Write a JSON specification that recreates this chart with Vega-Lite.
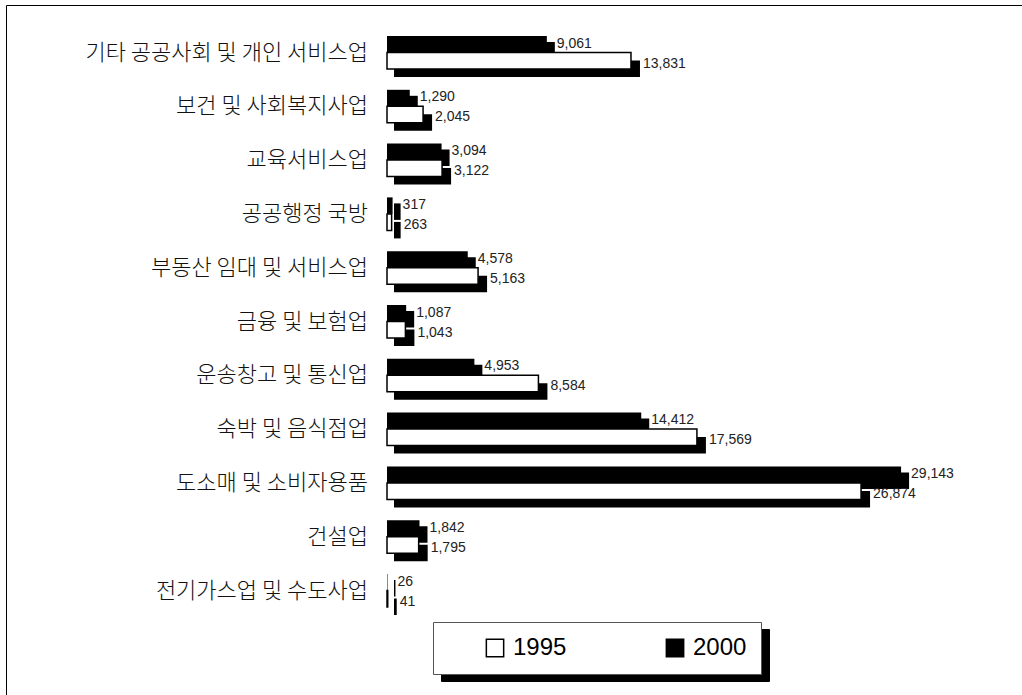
{
  "$schema": "https://vega.github.io/schema/vega-lite/v6.json",
  "width": 1022,
  "height": 695,
  "autosize": {"type": "fit", "contains": "padding"},
  "padding": {"left": 6, "top": 5, "right": 0, "bottom": 0},
  "background": "white",
  "config": {"view": {"stroke": null}, "font": "Liberation Sans"},
  "data": {
    "values": [
      {"cat": "기타 공공사회 및 개인 서비스업", "year": "2000", "value": 9061},
      {"cat": "기타 공공사회 및 개인 서비스업", "year": "1995", "value": 13831},
      {"cat": "보건 및 사회복지사업", "year": "2000", "value": 1290},
      {"cat": "보건 및 사회복지사업", "year": "1995", "value": 2045},
      {"cat": "교육서비스업", "year": "2000", "value": 3094},
      {"cat": "교육서비스업", "year": "1995", "value": 3122},
      {"cat": "공공행정 국방", "year": "2000", "value": 317},
      {"cat": "공공행정 국방", "year": "1995", "value": 263},
      {"cat": "부동산 임대 및 서비스업", "year": "2000", "value": 4578},
      {"cat": "부동산 임대 및 서비스업", "year": "1995", "value": 5163},
      {"cat": "금융 및 보험업", "year": "2000", "value": 1087},
      {"cat": "금융 및 보험업", "year": "1995", "value": 1043},
      {"cat": "운송창고 및 통신업", "year": "2000", "value": 4953},
      {"cat": "운송창고 및 통신업", "year": "1995", "value": 8584},
      {"cat": "숙박 및 음식점업", "year": "2000", "value": 14412},
      {"cat": "숙박 및 음식점업", "year": "1995", "value": 17569},
      {"cat": "도소매 및 소비자용품", "year": "2000", "value": 29143},
      {"cat": "도소매 및 소비자용품", "year": "1995", "value": 26874},
      {"cat": "건설업", "year": "2000", "value": 1842},
      {"cat": "건설업", "year": "1995", "value": 1795},
      {"cat": "전기가스업 및 수도사업", "year": "2000", "value": 26},
      {"cat": "전기가스업 및 수도사업", "year": "1995", "value": 41}
    ]
  },
  "encoding": {
    "y": {
      "field": "cat",
      "type": "nominal",
      "sort": ["기타 공공사회 및 개인 서비스업", "보건 및 사회복지사업", "교육서비스업", "공공행정 국방", "부동산 임대 및 서비스업", "금융 및 보험업", "운송창고 및 통신업", "숙박 및 음식점업", "도소매 및 소비자용품", "건설업", "전기가스업 및 수도사업"],
      "scale": {"paddingInner": 0, "paddingOuter": 0.9126, "align": 0.2098},
      "axis": {"orient": "left", "domain": true, "domainColor": "black", "domainWidth": 1, "ticks": false, "labels": false, "title": null, "grid": false}
    },
    "x": {
      "field": "value",
      "type": "quantitative",
      "scale": {"domain": [-21599, 35998], "nice": false},
      "axis": {"orient": "top", "domain": true, "domainColor": "black", "domainWidth": 1, "ticks": false, "labels": false, "title": null, "grid": false}
    }
  },
  "layer": [
    {
      "transform": [{"filter": "datum.year == '2000'"}],
      "mark": {"type": "bar", "color": "black", "height": 16.5, "yOffset": -2.25, "xOffset": 8, "x2Offset": 7},
      "encoding": {
        "x2": {"datum": 0},
        "opacity": {
          "field": "year", "type": "ordinal",
          "scale": {"domain": ["1995", "2000"], "range": [1, 1]},
          "legend": {
            "orient": "none", "legendX": 435, "legendY": 624, "direction": "horizontal", "title": null,
            "fillColor": "black", "strokeColor": "black", "padding": 14,
            "symbolType": "square", "symbolSize": 300, "symbolStrokeWidth": 1.5, "symbolFillColor": "black", "symbolStrokeColor": "black", "symbolOffset": 36,
            "labelFont": "Liberation Sans", "labelFontSize": 24, "labelColor": "black", "labelOpacity": 0, "labelOffset": 6, "columnPadding": 60,
            "labelExpr": "datum.label == '2000' ? '2000\u00a0\u00a0\u00a0\u00a0\u00a0' : datum.label"
          }
        }
      }
    },
    {
      "transform": [{"filter": "datum.year == '1995'"}],
      "mark": {"type": "bar", "color": "black", "height": 16.5, "yOffset": 16.25, "xOffset": 9, "x2Offset": 7},
      "encoding": {
        "x2": {"datum": 0},
        "opacity": {"field": "year", "type": "ordinal", "scale": {"domain": ["1995", "2000"], "range": [1, 1]}}
      }
    },
    {
      "transform": [{"filter": "datum.year == '2000'"}],
      "mark": {"type": "bar", "height": 16.5, "yOffset": -8.25},
      "encoding": {
        "x2": {"datum": 0},
        "fill": {
          "field": "year", "type": "nominal",
          "scale": {"range": ["white", "black"]},
          "legend": {
            "orient": "none", "legendX": 427, "legendY": 617, "direction": "horizontal", "title": null,
            "fillColor": "white", "strokeColor": "#555555", "padding": 14,
            "symbolType": "square", "symbolSize": 300, "symbolStrokeWidth": 1.5, "symbolStrokeColor": "black", "symbolOffset": 36,
            "labelFont": "Liberation Sans", "labelFontSize": 24, "labelColor": "black", "labelOffset": 6, "columnPadding": 60,
            "labelExpr": "datum.label == '2000' ? '2000\u00a0\u00a0\u00a0\u00a0\u00a0' : datum.label"
          }
        }
      }
    },
    {
      "transform": [{"filter": "datum.year == '1995'"}],
      "mark": {"type": "bar", "height": 16.5, "yOffset": 8.25, "stroke": "black", "strokeWidth": 1.5},
      "encoding": {
        "x2": {"datum": 0},
        "fill": {"field": "year", "type": "nominal", "scale": {"range": ["white", "black"]}}
      }
    },
    {
      "transform": [{"filter": "datum.year == '2000'"}],
      "mark": {"type": "text", "align": "left", "baseline": "middle", "dx": 10, "dy": -9, "fontSize": 14, "color": "#222222", "font": "Liberation Sans"},
      "encoding": {"text": {"field": "value", "type": "quantitative", "format": ","}}
    },
    {
      "transform": [{"filter": "datum.year == '1995'"}],
      "mark": {"type": "text", "align": "left", "baseline": "middle", "dx": 12, "dy": 11, "fontSize": 14, "color": "#222222", "font": "Liberation Sans"},
      "encoding": {"text": {"field": "value", "type": "quantitative", "format": ","}}
    },
    {
      "transform": [{"filter": "datum.year == '2000'"}],
      "mark": {"type": "text", "align": "right", "baseline": "middle", "dx": -19, "fontSize": 22, "fontWeight": 300, "color": "#111111", "font": "Noto Sans CJK KR"},
      "encoding": {"x": {"datum": 0}, "text": {"field": "cat", "type": "nominal"}}
    }
  ]
}
